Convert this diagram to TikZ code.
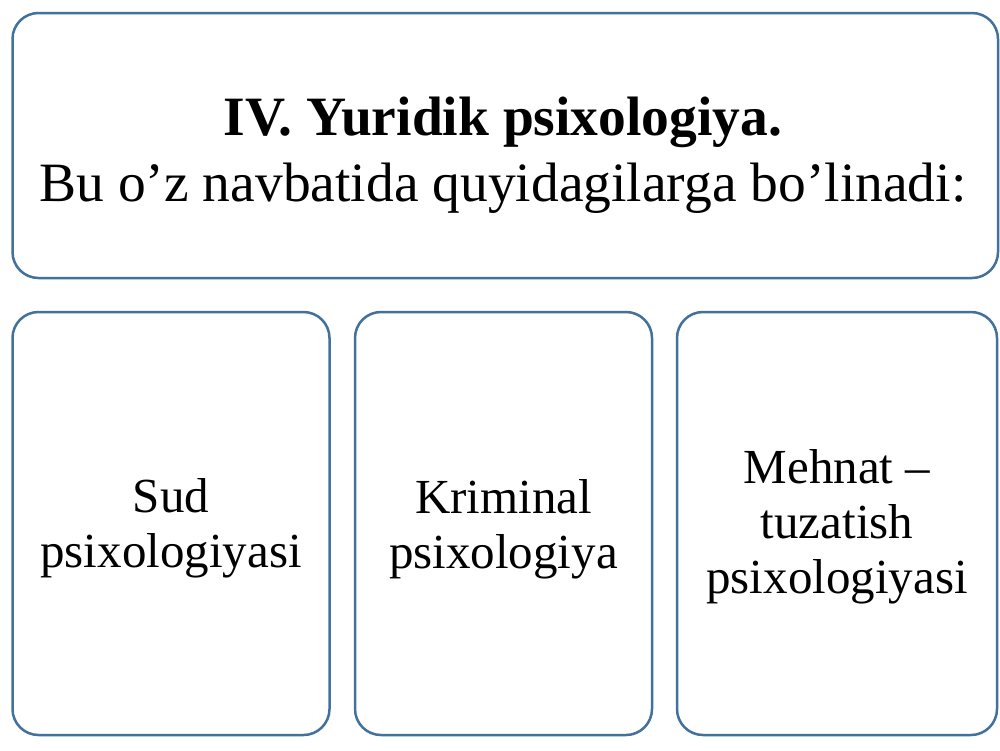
\documentclass[tikz,border=0pt]{standalone}
\usepackage{fontspec}
\setmainfont{Liberation Serif}
\definecolor{boxblue}{RGB}{65,113,156}
\begin{document}
\begin{tikzpicture}[x=1pt,y=-1pt,
  panel/.style={draw=boxblue, line width=2.5pt, rounded corners=26pt, fill=white},
  toptext/.style={align=center, font=\fontsize{55.5}{66}\selectfont, anchor=base, inner sep=0pt},
  subtext/.style={align=center, font=\fontsize{49}{55}\selectfont, anchor=base, inner sep=0pt}]
\useasboundingbox (0,0) rectangle (1000,750);
\fill[white] (0,0) rectangle (1000,750);
\draw[panel] (12.5,13) rectangle (998,278);
\node[inner sep=0pt] (top) at (505,145.5) {};
\draw[panel] (12.5,312) rectangle (329.5,735);
\node[inner sep=0pt] (b1) at (171,523.5) {};
\draw[panel] (355,312) rectangle (652,735);
\node[inner sep=0pt] (b2) at (503.5,523.5) {};
\draw[panel] (677,312) rectangle (997,735);
\node[inner sep=0pt] (b3) at (837,523.5) {};
\node[toptext] (ttl) at (503,201) {\textbf{IV. Yuridik psixologiya.}\\Bu o’z navbatida quyidagilarga bo’linadi:};
\node[subtext] (t1) at (171,567) {Sud\\psixologiyasi};
\node[subtext] (t2) at (503.5,568) {Kriminal\\psixologiya};
\node[subtext] (t3) at (837,593) {Mehnat –\\tuzatish\\psixologiyasi};
\end{tikzpicture}
\end{document}
